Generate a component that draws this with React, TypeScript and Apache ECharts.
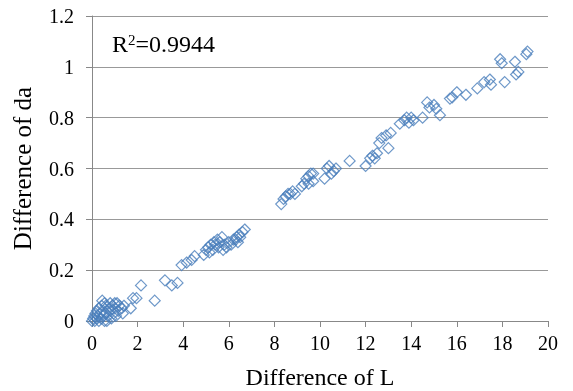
import React, { useEffect, useRef } from "react";
import * as echarts from "echarts";

const xTicks = [0, 2, 4, 6, 8, 10, 12, 14, 16, 18, 20];
const yTicks = [0, 0.2, 0.4, 0.6, 0.8, 1, 1.2];
const r2Base = "R";
const r2Sup = "2";
const r2Value = "=0.9944";
const xName = "Difference of L";
const yName = "Difference of da";

const diffL = [
  0.0, 0.05, 0.1, 0.12, 0.15, 0.2, 0.22, 0.25, 0.3, 0.3, 0.35, 0.4, 0.42, 0.45, 0.5, 0.5, 0.55, 0.6, 0.6, 0.65,
  0.7, 0.75, 0.8, 0.85, 0.9, 0.95, 1.0, 1.05, 1.1, 1.15, 1.2, 1.3, 1.35, 1.4, 0.55, 0.8, 1.0,
  1.7, 1.8, 1.95, 2.15, 2.75, 3.2, 3.5, 3.75, 3.93, 4.15, 4.37, 4.5,
  4.9, 5.0, 5.1, 5.15, 5.2, 5.3, 5.35, 5.4, 5.5, 5.55, 5.6, 5.7, 5.75, 5.8, 5.9, 6.0, 6.1, 6.2, 6.3, 6.35, 6.4, 6.45, 6.5, 6.6, 6.7,
  8.3, 8.4, 8.5, 8.6, 8.7, 8.8, 8.9, 9.2, 9.3, 9.4, 9.5, 9.6, 9.7, 9.5, 9.7,
  10.2, 10.3, 10.4, 10.5, 10.6, 10.7, 11.3, 12.0, 12.2, 12.3, 12.4, 12.5, 12.6, 12.7, 12.9, 13.0, 13.1,
  13.5, 13.7, 13.8, 13.9, 14.0, 14.1, 14.5, 14.7, 14.8, 15.0, 15.1, 15.26, 15.7, 15.8, 16.0, 16.4,
  16.9, 17.2, 17.45, 17.5, 17.9, 17.97, 18.1, 18.55, 18.6, 18.7, 19.05, 19.1,
];
const diffDa = [
  0.0, 0.01, 0.02, 0.0, 0.03, 0.01, 0.04, 0.02, 0.0, 0.05, 0.03, 0.01, 0.06, 0.08, 0.02, 0.04, 0.0, 0.03, 0.06, 0.0,
  0.02, 0.05, 0.04, 0.01, 0.06, 0.03, 0.05, 0.02, 0.07, 0.04, 0.06, 0.05, 0.03, 0.06, 0.07, 0.07, 0.07,
  0.05, 0.09, 0.09, 0.14, 0.08, 0.16, 0.14, 0.15, 0.22, 0.23, 0.24, 0.255,
  0.26, 0.28, 0.29, 0.27, 0.3, 0.28, 0.31, 0.3, 0.32, 0.29, 0.31, 0.33, 0.28, 0.3, 0.29, 0.31, 0.3, 0.32, 0.32, 0.33, 0.31, 0.34, 0.33, 0.35, 0.36,
  0.46, 0.48, 0.49, 0.5, 0.5, 0.51, 0.5, 0.53, 0.54, 0.56, 0.57, 0.58, 0.58, 0.54, 0.55,
  0.56, 0.6, 0.61, 0.58, 0.59, 0.6, 0.63, 0.61, 0.64, 0.65, 0.64, 0.66, 0.7, 0.72, 0.73, 0.68, 0.74,
  0.776, 0.79, 0.8, 0.78, 0.8, 0.79, 0.8, 0.86, 0.84, 0.85, 0.835, 0.81, 0.875, 0.88, 0.9, 0.89,
  0.915, 0.94, 0.95, 0.93, 1.03, 1.014, 0.94, 1.02, 0.97, 0.98, 1.05, 1.06,
];

export default function App() {
  const ref = useRef<HTMLDivElement>(null);
  useEffect(() => {
    if (!ref.current) return;
    const chart = echarts.init(ref.current, null, { renderer: "svg" });
    const font = "Liberation Serif";
    chart.setOption({
      animation: false,
      textStyle: { fontFamily: font },
      grid: { left: 92, right: 25, top: 16, bottom: 70, outerBoundsMode: "none" },
      xAxis: {
        type: "value",
        min: xTicks[0],
        max: xTicks[xTicks.length - 1],
        interval: 2,
        name: xName,
        nameLocation: "middle",
        nameGap: 44,
        nameTextStyle: { fontFamily: font, fontSize: 24, color: "#000" },
        axisLine: { show: true, lineStyle: { color: "#888", width: 1 } },
        axisTick: { show: true, length: 6, lineStyle: { color: "#888" } },
        splitLine: { show: false },
        axisLabel: { fontFamily: font, fontSize: 20, color: "#000", margin: 12 },
      },
      yAxis: {
        type: "value",
        min: yTicks[0],
        max: yTicks[yTicks.length - 1],
        interval: 0.2,
        name: yName,
        nameLocation: "middle",
        nameGap: 57,
        nameTextStyle: { fontFamily: font, fontSize: 25, color: "#000" },
        axisLine: { show: true, lineStyle: { color: "#888", width: 1 } },
        axisTick: { show: true, length: 6, lineStyle: { color: "#888" } },
        splitLine: { show: true, lineStyle: { color: "#999", width: 1 } },
        axisLabel: {
          fontFamily: font,
          fontSize: 20,
          color: "#000",
          margin: 18,
          formatter: (v: number) => String(Math.round(v * 10) / 10),
        },
      },
      graphic: [
        {
          type: "text",
          left: 112,
          top: 32,
          style: {
            text: `{a|${r2Base}}{b|${r2Sup}}{a|${r2Value}}`,
            fontFamily: font,
            fill: "#000",
            rich: {
              a: { fontFamily: font, fontSize: 24, fill: "#000" },
              b: { fontFamily: font, fontSize: 15, fill: "#000", verticalAlign: "top" },
            },
          },
        },
      ],
      series: [
        {
          type: "scatter",
          data: diffL.map((x, i) => [x, diffDa[i]]),
          symbol: "diamond",
          symbolSize: 11,
          itemStyle: { color: "rgba(0,0,0,0)", borderColor: "#4a7ebb", borderWidth: 1.2 },
        },
      ],
    });
    return () => chart.dispose();
  }, []);
  return <div ref={ref} style={{ position: "fixed", left: 0, top: 0, width: 573, height: 391 }} />;
}
